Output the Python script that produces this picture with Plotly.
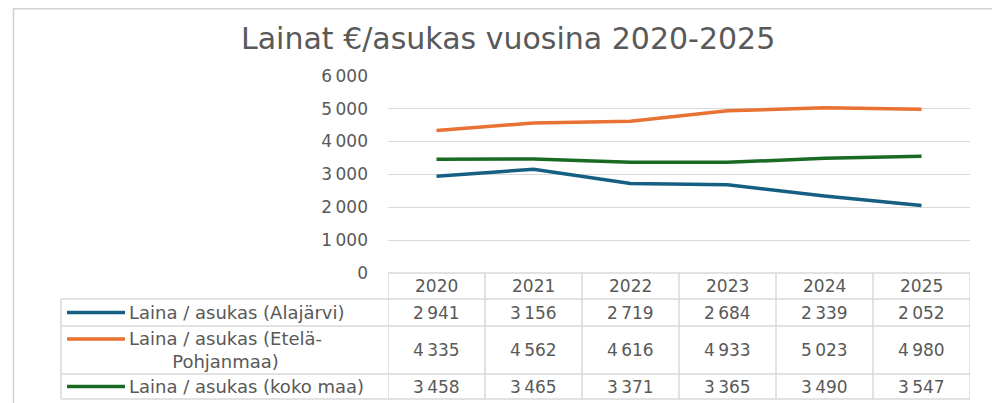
import plotly.graph_objects as go

years = ["2020", "2021", "2022", "2023", "2024", "2025"]
series_names = [
    "Laina / asukas (Alajärvi)",
    "Laina / asukas (Etelä-<br>Pohjanmaa)",
    "Laina / asukas (koko maa)",
]
alajarvi = [2941, 3156, 2719, 2684, 2339, 2052]
etela_pohjanmaa = [4335, 4562, 4616, 4933, 5023, 4980]
koko_maa = [3458, 3465, 3371, 3365, 3490, 3547]
series_values = [alajarvi, etela_pohjanmaa, koko_maa]
colors = ["#156082", "#E97132", "#196B24"]
title_text = "Lainat €/asukas vuosina 2020-2025"
ytick_vals = [0, 1000, 2000, 3000, 4000, 5000, 6000]

W, H = 1000, 403
OFF = 8  # page body margin in the browser
FONT = "DejaVu Sans"
TXT = "#595959"
BORDER = "#d9d9d9"


def px(x):
    return (x - OFF) / W


def py(y):
    return (H - (y - OFF)) / H


def fmt(v):
    return f"{v:,}".replace(",", "\u202f")


xs = list(range(len(years)))

fig = go.Figure()
for name, vals, col in zip(series_names, series_values, colors):
    fig.add_trace(go.Scatter(
        x=xs, y=vals, mode="lines", name=name.replace("<br>", " "),
        line=dict(color=col, width=3.5), showlegend=False, hoverinfo="skip",
    ))

shapes = []
annotations = []

# outer chart border
shapes.append(dict(type="rect", xref="paper", yref="paper",
                   x0=px(13.5), x1=px(997), y0=py(430), y1=py(8.8),
                   line=dict(color="#d0d0d0", width=1.5), fillcolor="rgba(0,0,0,0)", layer="below"))

# title
annotations.append(dict(text=title_text, xref="paper", yref="paper",
                        x=px(508), y=py(38), xanchor="center", yanchor="middle",
                        showarrow=False, font=dict(family=FONT, size=30, color=TXT)))

# data table
row_edges = [273, 299, 326, 374, 399]
row_centers = [(row_edges[i] + row_edges[i + 1]) / 2 for i in range(len(row_edges) - 1)]
n = len(years)
lw = 1.5
shapes.append(dict(type="line", xref="x", yref="paper", x0=-0.5, x1=n - 0.5,
                   y0=py(row_edges[0]), y1=py(row_edges[0]), line=dict(color=BORDER, width=lw)))
for ye in row_edges[1:]:
    shapes.append(dict(type="line", xref="paper", yref="paper", x0=px(61), x1=px(970),
                       y0=py(ye), y1=py(ye), line=dict(color=BORDER, width=lw)))
shapes.append(dict(type="line", xref="paper", yref="paper", x0=px(61), x1=px(61),
                   y0=py(row_edges[1]), y1=py(row_edges[-1]), line=dict(color=BORDER, width=lw)))
for i in range(n + 1):
    shapes.append(dict(type="line", xref="x", yref="paper", x0=i - 0.5, x1=i - 0.5,
                       y0=py(row_edges[0]), y1=py(row_edges[-1]), line=dict(color=BORDER, width=lw)))

for i, yr in enumerate(years):
    annotations.append(dict(text=yr, xref="x", yref="paper", x=i, y=py(row_centers[0]),
                            xanchor="center", yanchor="middle", showarrow=False,
                            font=dict(family=FONT, size=17, color=TXT)))

label_offsets = [0, -11, 0]
for r, (name, vals, col) in enumerate(zip(series_names, series_values, colors)):
    yc = row_centers[r + 1]
    sw_y = yc + label_offsets[r]
    shapes.append(dict(type="line", xref="paper", yref="paper", x0=px(67), x1=px(125),
                       y0=py(sw_y), y1=py(sw_y), line=dict(color=col, width=3.5)))
    annotations.append(dict(text=name, xref="paper", yref="paper", x=px(127), y=py(yc),
                            xanchor="left", yanchor="middle", align="center", showarrow=False,
                            font=dict(family=FONT, size=18, color=TXT)))
    for i, v in enumerate(vals):
        annotations.append(dict(text=fmt(v), xref="x", yref="paper", x=i, y=py(yc),
                                xanchor="center", yanchor="middle", showarrow=False,
                                font=dict(family=FONT, size=17, color=TXT)))

fig.update_layout(
    template="none",
    width=W, height=H,
    autosize=False,
    margin=dict(l=0, r=0, t=0, b=0, pad=0, autoexpand=False),
    paper_bgcolor="white", plot_bgcolor="white",
    separators=".\u202f",
    shapes=shapes, annotations=annotations,
    xaxis=dict(domain=[px(388), px(970)], range=[-0.5, n - 0.5], showticklabels=False,
               showgrid=False, zeroline=False, showline=False, fixedrange=True, automargin=False),
    yaxis=dict(domain=[py(273), py(75.7)], range=[0, 6000], tickvals=ytick_vals,
               tickformat=",d", showgrid=True, gridcolor=BORDER, gridwidth=1.3,
               zeroline=False, showline=False, ticks="", ticklabelstandoff=19, automargin=False,
               tickfont=dict(family=FONT, size=17, color=TXT), fixedrange=True),
)

fig.write_html("out.html")
